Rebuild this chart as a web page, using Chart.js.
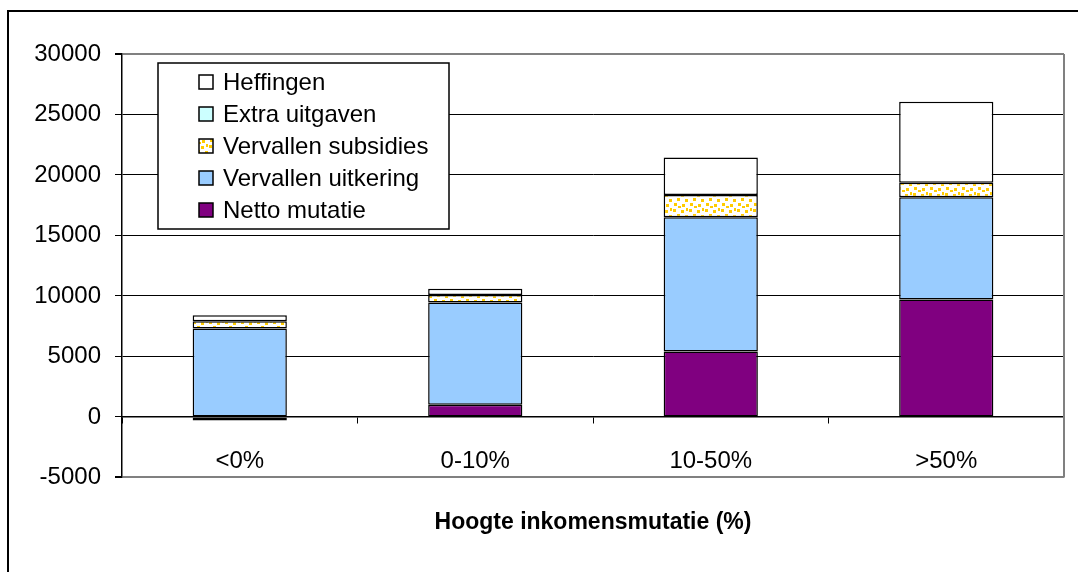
<!DOCTYPE html>
<html>
<head>
<meta charset="utf-8">
<script src="https://cdn.jsdelivr.net/npm/chart.js@4/dist/chart.umd.min.js"></script>
<style>
  body { margin: 0; background: #fff; }
  canvas { display: block; }
</style>
</head>
<body>
<canvas id="chart" width="1078" height="572"></canvas>
<script>
const categories = ['<0%', '0-10%', '10-50%', '>50%'];
const nettoMutatie = [-300, 1000, 5400, 9700];
const vervallenUitkering = [7300, 8450, 11100, 8450];
const vervallenSubsidies = [600, 630, 1850, 1200];
const extraUitgaven = [0, 0, 0, 0];
const heffingen = [500, 520, 3100, 6700];
const yTicks = [-5000, 0, 5000, 10000, 15000, 20000, 25000, 30000];

// confetti-like fill for the subsidies series
const makeConfetti = () => {
  const c = document.createElement('canvas');
  c.width = 16; c.height = 16;
  const g = c.getContext('2d');
  g.fillStyle = '#fff';
  g.fillRect(0, 0, 16, 16);
  g.fillStyle = '#FFCC00';
  [[1, 1], [9, 2], [5, 6], [13, 7], [2, 11], [10, 12], [6, 14], [14, 0]].forEach(([x, y]) => g.fillRect(x, y, 3, 3));
  return g.createPattern(c, 'repeat');
};
const confetti = makeConfetti();

Chart.defaults.font.family = '"Liberation Sans", Arial, sans-serif';
Chart.defaults.color = '#000';

const frame = {
  id: 'frame',
  beforeDraw(chart) {
    const ctx = chart.ctx;
    ctx.save();
    ctx.fillStyle = '#fff';
    ctx.fillRect(0, 0, chart.width, chart.height);
    ctx.strokeStyle = '#000';
    ctx.lineWidth = 2;
    ctx.strokeRect(8, 11, 1200, 700);
    ctx.restore();
  },
  beforeDatasetsDraw(chart) {
    const {ctx, chartArea: a} = chart;
    ctx.save();
    ctx.strokeStyle = '#808080';
    ctx.lineWidth = 2;
    ctx.beginPath();
    ctx.moveTo(a.right, a.top);
    ctx.lineTo(a.right, a.bottom);
    ctx.stroke();
    ctx.restore();
  },
  afterDraw(chart) {
    const ctx = chart.ctx;
    ctx.save();
    ctx.fillStyle = '#fff';
    ctx.fillRect(158, 63, 291, 166);
    ctx.strokeStyle = '#000';
    ctx.lineWidth = 1.5;
    ctx.strokeRect(158, 63, 291, 166);
    ctx.font = '24px "Liberation Sans", Arial, sans-serif';
    ctx.textBaseline = 'middle';
    const sets = chart.data.datasets.slice().reverse();
    sets.forEach((ds, i) => {
      const y = 82 + i * 32;
      ctx.fillStyle = ds.backgroundColor;
      ctx.fillRect(199, y - 7, 14, 14);
      ctx.lineWidth = 1.5;
      ctx.strokeStyle = '#000';
      ctx.strokeRect(199, y - 7, 14, 14);
      ctx.fillStyle = '#000';
      ctx.fillText(ds.label, 223, y + 1);
    });
    ctx.restore();
  }
};

const makeSet = (label, data, color) => ({
  label, data,
  backgroundColor: color,
  borderColor: '#000',
  borderWidth: 1.5,
  borderSkipped: false,
  barPercentage: 0.4,
  categoryPercentage: 1
});

new Chart(document.getElementById('chart'), {
  type: 'bar',
  data: {
    labels: categories,
    datasets: [
      makeSet('Netto mutatie', nettoMutatie, '#800080'),
      makeSet('Vervallen uitkering', vervallenUitkering, '#99CCFF'),
      makeSet('Vervallen subsidies', vervallenSubsidies, confetti),
      makeSet('Extra uitgaven', extraUitgaven, '#CCFFFF'),
      makeSet('Heffingen', heffingen, '#FFFFFF')
    ]
  },
  options: {
    responsive: false,
    animation: false,
    layout: { padding: { left: 0, right: 14, top: 54, bottom: 0 } },
    plugins: {
      legend: { display: false },
      tooltip: { enabled: false }
    },
    scales: {
      x: {
        stacked: true,
        position: { y: 0 },
        grid: { drawOnChartArea: false, drawTicks: true, tickLength: 6, color: '#000', offset: true },
        border: { color: '#000', width: 1.5 },
        ticks: { font: { size: 24 }, padding: 24 }
      },
      // carries only the axis title under the plot
      xTitle: {
        type: 'category',
        position: 'bottom',
        labels: categories,
        grid: { display: false, drawTicks: false },
        border: { display: false },
        ticks: { display: false },
        title: {
          display: true,
          text: 'Hoogte inkomensmutatie (%)',
          font: { size: 23, weight: 'bold' },
          padding: { top: 31, bottom: 36 }
        }
      },
      y: {
        stacked: true,
        min: -5000,
        max: 30000,
        afterFit: (scale) => { scale.width = 122; },
        afterBuildTicks: (scale) => { scale.ticks = yTicks.map(v => ({ value: v })); },
        grid: {
          color: (c) => (c.tick && (c.tick.value === 30000 || c.tick.value === -5000)) ? '#808080' : '#000',
          lineWidth: (c) => (c.tick && (c.tick.value === 30000 || c.tick.value === -5000)) ? 2 : 1,
          tickColor: '#000',
          tickLength: 7
        },
        border: { color: '#000', width: 1.5 },
        ticks: { font: { size: 24 }, padding: 14, callback: (v) => String(v) }
      }
    }
  },
  plugins: [frame]
});
</script>
</body>
</html>
